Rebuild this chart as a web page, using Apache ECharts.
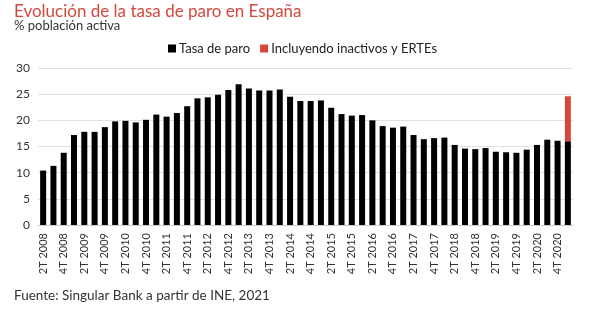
<!DOCTYPE html>
<html>
<head>
<meta charset="utf-8">
<script src="https://cdn.jsdelivr.net/npm/echarts@6/dist/echarts.min.js"></script>
<style>
html,body{margin:0;padding:0;background:#fff;}
#chart{width:600px;height:327px;}
</style>
</head>
<body>
<div id="chart"></div>
<script>
const categories = [
  "2T 2008","3T 2008","4T 2008",
  "1T 2009","2T 2009","3T 2009","4T 2009",
  "1T 2010","2T 2010","3T 2010","4T 2010",
  "1T 2011","2T 2011","3T 2011","4T 2011",
  "1T 2012","2T 2012","3T 2012","4T 2012",
  "1T 2013","2T 2013","3T 2013","4T 2013",
  "1T 2014","2T 2014","3T 2014","4T 2014",
  "1T 2015","2T 2015","3T 2015","4T 2015",
  "1T 2016","2T 2016","3T 2016","4T 2016",
  "1T 2017","2T 2017","3T 2017","4T 2017",
  "1T 2018","2T 2018","3T 2018","4T 2018",
  "1T 2019","2T 2019","3T 2019","4T 2019",
  "1T 2020","2T 2020","3T 2020","4T 2020",
  "1T 2021"
];
const tasaParo = [
  10.4, 11.3, 13.8,
  17.2, 17.8, 17.8, 18.7,
  19.8, 19.9, 19.6, 20.1,
  21.1, 20.7, 21.4, 22.7,
  24.2, 24.4, 24.9, 25.8,
  26.9, 26.1, 25.7, 25.7,
  25.9, 24.5, 23.7, 23.7,
  23.8, 22.4, 21.2, 20.9,
  21.0, 20.0, 18.9, 18.6,
  18.8, 17.2, 16.4, 16.6,
  16.7, 15.3, 14.6, 14.5,
  14.7, 14.0, 13.9, 13.8,
  14.4, 15.3, 16.3, 16.1,
  16.0
];
const inactivosErtes = [
  0,0,0, 0,0,0,0, 0,0,0,0, 0,0,0,0, 0,0,0,0, 0,0,0,0, 0,0,0,0,
  0,0,0,0, 0,0,0,0, 0,0,0,0, 0,0,0,0, 0,0,0,0, 0,0,0,0,
  8.6
];
const seriesNames = ["Tasa de paro", "Incluyendo inactivos y ERTEs"];
const titleText = "Evolución de la tasa de paro en España";
const subtitleText = "% población activa";
const sourceText = "Fuente: Singular Bank a partir de INE, 2021";

const RED = "#d4483c";
const FONT = "Lato";

const chart = echarts.init(document.getElementById('chart'), null, {renderer: 'canvas'});
chart.setOption({
  animation: false,
  backgroundColor: '#fff',
  textStyle: {fontFamily: FONT},
  title: [
    {text: titleText, left: 9, top: -2,
     textStyle: {color: RED, fontSize: 17, fontWeight: 'normal', fontFamily: FONT}},
    {text: subtitleText, left: 9, top: 14,
     textStyle: {color: '#333', fontSize: 13, fontWeight: 'normal', fontFamily: FONT}},
    {text: sourceText, left: 9, top: 284,
     textStyle: {color: '#333', fontSize: 13.5, fontWeight: 'normal', fontFamily: FONT}}
  ],
  legend: {
    left: 163, top: 37,
    itemWidth: 8, itemHeight: 8, itemGap: 10,
    icon: 'rect',
    textStyle: {color: '#222', fontSize: 13, fontFamily: FONT, padding: [0,0,0,-2]},
    data: seriesNames
  },
  grid: {left: 38, right: 27, top: 68, bottom: 102, containLabel: false},
  xAxis: {
    type: 'category',
    data: categories,
    axisLine: {show: true, lineStyle: {color: '#ccc'}},
    axisTick: {show: false},
    axisLabel: {rotate: 90, interval: 1, color: '#333', fontSize: 11, fontFamily: FONT, margin: 8}
  },
  yAxis: {
    type: 'value', min: 0, max: 30, interval: 5,
    axisLine: {show: false}, axisTick: {show: false},
    splitLine: {lineStyle: {color: '#e0e0e0'}},
    axisLabel: {color: '#333', fontSize: 12, fontFamily: FONT, margin: 8}
  },
  series: [
    {name: seriesNames[0], type: 'bar', stack: 'a', data: tasaParo, barWidth: 6,
     itemStyle: {color: '#000'}},
    {name: seriesNames[1], type: 'bar', stack: 'a', data: inactivosErtes, barWidth: 6,
     itemStyle: {color: RED}}
  ]
});
</script>
</body>
</html>
